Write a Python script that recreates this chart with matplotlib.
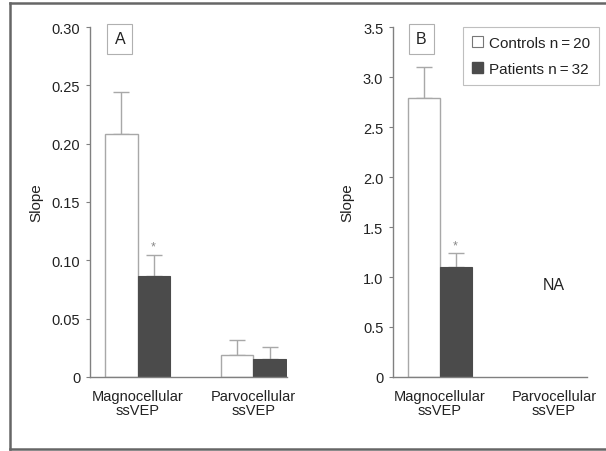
import matplotlib
matplotlib.use("Agg")
import matplotlib.pyplot as plt
from matplotlib.lines import Line2D
from matplotlib.patches import Patch

plt.rcParams['font.family'] = ['Liberation Sans', 'DejaVu Sans']

# Data
groups = ["Magnocellular\nssVEP", "Parvocellular\nssVEP"]
series = ["Controls n\u2009=\u200920", "Patients n\u2009=\u200932"]

a_controls = [0.208, 0.019]
a_controls_err = [0.036, 0.013]
a_patients = [0.087, 0.0155]
a_patients_err = [0.018, 0.0105]

b_controls = [2.79, None]
b_controls_err = [0.31, None]
b_patients = [1.10, None]
b_patients_err = [0.14, None]

a_ticks = [0, 0.05, 0.10, 0.15, 0.20, 0.25, 0.30]
a_ticklabels = ["0", "0.05", "0.10", "0.15", "0.20", "0.25", "0.30"]
b_ticks = [0, 0.5, 1.0, 1.5, 2.0, 2.5, 3.0, 3.5]
b_ticklabels = ["0", "0.5", "1.0", "1.5", "2.0", "2.5", "3.0", "3.5"]

W, H = 606, 452
fig = plt.figure(figsize=(W / 100, H / 100), dpi=100)

axis_col = "#808080"
dark = "#4b4b4b"
open_edge = "#a8a8a8"
txt = "#222222"
fs = 10.5
bw = 0.278


def px_axes(x0, x1, y0, y1):
    return fig.add_axes([x0 / W, 1 - y1 / H, (x1 - x0) / W, (y1 - y0) / H])


def draw_panel(ax, ctrl, ctrl_err, pat, pat_err, ticks, ticklabels, ymax, letter, lx):
    for i in range(len(groups)):
        if ctrl[i] is not None:
            ax.bar(i - bw / 2, ctrl[i], width=bw, color="white",
                   edgecolor=open_edge, linewidth=1.0, zorder=2)
            ax.errorbar(i - bw / 2, ctrl[i], yerr=[[0], [ctrl_err[i]]],
                        fmt="none", ecolor=open_edge, elinewidth=1.0,
                        capsize=6, capthick=1.0, zorder=1)
        if pat[i] is not None:
            ax.bar(i + bw / 2, pat[i], width=bw, color=dark,
                   edgecolor=dark, linewidth=0.8, zorder=2)
            ax.errorbar(i + bw / 2, pat[i], yerr=[[0], [pat_err[i]]],
                        fmt="none", ecolor=open_edge, elinewidth=1.0,
                        capsize=6, capthick=1.0, zorder=1)
    ax.set_xlim(-0.41, 1.29)
    ax.set_ylim(0, ymax)
    ax.set_yticks(ticks)
    ax.set_yticklabels(ticklabels, fontsize=fs, color=txt)
    ax.set_xticks(range(len(groups)))
    ax.set_xticklabels(groups, fontsize=fs, color=txt, linespacing=1.0)
    ax.tick_params(axis="x", length=0, pad=9)
    ax.tick_params(axis="y", length=3, width=0.8, color=axis_col, pad=4)
    for s in ["top", "right"]:
        ax.spines[s].set_visible(False)
    for s in ["left", "bottom"]:
        ax.spines[s].set_color(axis_col)
        ax.spines[s].set_linewidth(1.0)
    ax.set_ylabel("Slope", fontsize=fs + 0.5, color=txt, labelpad=6)
    ax.text(lx, 0.966, letter, transform=ax.transAxes, ha="center", va="center",
            fontsize=fs + 1, color=txt,
            bbox=dict(boxstyle="square,pad=0.45", facecolor="white",
                      edgecolor="#b0b0b0", linewidth=0.8))


ax1 = px_axes(90, 287, 28, 378)
draw_panel(ax1, a_controls, a_controls_err, a_patients, a_patients_err,
           a_ticks, a_ticklabels, 0.30, "A", 0.152)
ax1.text(0 + bw / 2, a_patients[0] + a_patients_err[0] + 0.002, "*",
         ha="center", va="bottom", fontsize=9, color="#888888")

ax2 = px_axes(393, 587, 28, 378)
draw_panel(ax2, b_controls, b_controls_err, b_patients, b_patients_err,
           b_ticks, b_ticklabels, 3.5, "B", 0.145)
ax2.text(0 + bw / 2, b_patients[0] + b_patients_err[0] + 0.02, "*",
         ha="center", va="bottom", fontsize=9, color="#888888")
ax2.text(1, 0.93, "NA", ha="center", va="center", fontsize=fs + 1, color=txt)

handles = [Patch(facecolor="white", edgecolor="#777777", linewidth=0.8),
           Patch(facecolor=dark, edgecolor=dark)]
leg = fig.legend(handles, series, loc="upper left",
                 bbox_to_anchor=(463 / W, 1 - 28 / H),
                 fontsize=fs + 0.5, frameon=True, fancybox=False, handlelength=0.7,
                 handleheight=0.7, handletextpad=0.4, borderpad=0.6,
                 labelspacing=0.75, borderaxespad=0)
leg.get_frame().set_edgecolor("#b0b0b0")
leg.get_frame().set_linewidth(0.8)
for t in leg.get_texts():
    t.set_color(txt)

# outer frame (top, left, bottom)
fc = "#666666"
fig.add_artist(Line2D([10 / W, 1.0], [1 - 4 / H, 1 - 4 / H], color=fc, lw=1.8))
fig.add_artist(Line2D([10 / W, 10 / W], [1 - 4 / H, 1 - 450 / H], color=fc, lw=1.8))
fig.add_artist(Line2D([10 / W, 1.0], [1 - 450 / H, 1 - 450 / H], color=fc, lw=1.8))

fig.savefig("out.png", dpi=100)
